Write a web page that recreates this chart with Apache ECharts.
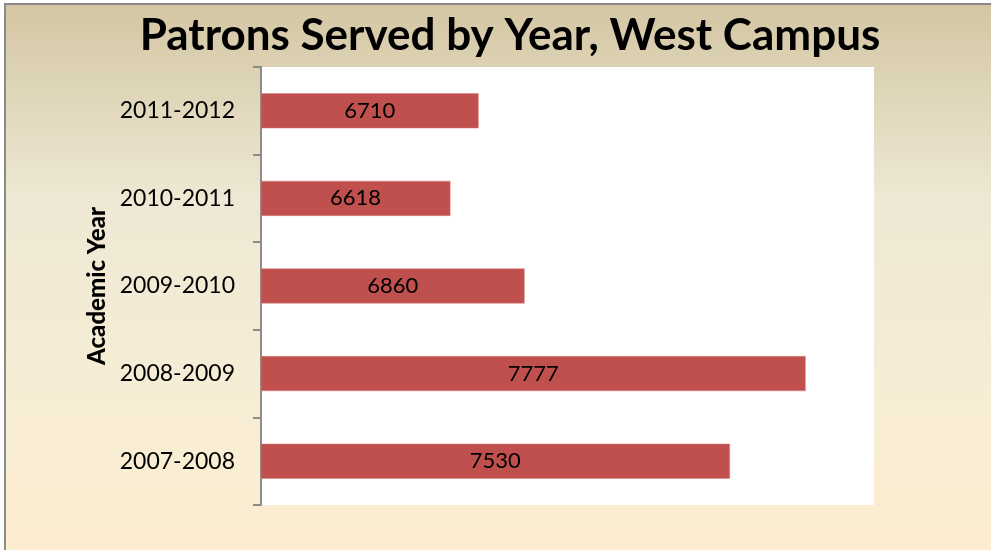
<!DOCTYPE html>
<html>
<head>
<meta charset="utf-8">
<script src="https://cdn.jsdelivr.net/npm/echarts@6/dist/echarts.min.js"></script>
<style>
html,body{margin:0;padding:0;background:#fff;}
#chart{width:991px;height:550px;}
</style>
</head>
<body>
<div id="chart"></div>
<script>
const titleText = 'Patrons Served by Year, West Campus';
const axisName = 'Academic Year';
const categories = ['2011-2012', '2010-2011', '2009-2010', '2008-2009', '2007-2008'];
const patrons = [6710, 6618, 6860, 7777, 7530];
const xMin = 6000;
const xMax = 8000;

const chart = echarts.init(document.getElementById('chart'), null, {renderer: 'canvas'});
const FONT = 'Lato, "Open Sans", sans-serif';
chart.setOption({
  animation: false,
  backgroundColor: 'transparent',
  graphic: [
    {
      type: 'rect', z: -10, silent: true,
      shape: {x: 5, y: 4, width: 1000, height: 560},
      style: {
        fill: new echarts.graphic.LinearGradient(0, 0, 0, 1, [
          {offset: 0, color: '#D3C6A3'},
          {offset: 0.35, color: '#EEE8D4'},
          {offset: 0.7, color: '#F7EDD5'},
          {offset: 1, color: '#FDEDD0'}
        ]),
        stroke: '#8A8A8A', lineWidth: 2
      }
    }
  ],
  title: {
    text: titleText,
    left: 505, top: 9, textAlign: 'center',
    textStyle: {fontFamily: FONT, fontWeight: 'bold', fontSize: 44, color: '#000'}
  },
  grid: {left: 261, top: 67, right: 117, bottom: 45, show: true, backgroundColor: '#FFFFFF', borderWidth: 0, containLabel: false},
  xAxis: {
    type: 'value', min: xMin, max: xMax, show: false,
    splitLine: {show: false}
  },
  yAxis: {
    type: 'category', data: categories, inverse: true,
    name: axisName, nameLocation: 'middle', nameGap: 152,
    nameTextStyle: {fontFamily: FONT, fontWeight: 900, fontSize: 24, color: '#000'},
    axisLine: {show: true, lineStyle: {color: '#8C8C8C', width: 2}},
    axisTick: {show: true, length: 8, lineStyle: {color: '#8C8C8C', width: 2}},
    axisLabel: {fontFamily: FONT, fontSize: 23, color: '#000', margin: 26}
  },
  series: [{
    type: 'bar', data: patrons, barWidth: '40%',
    itemStyle: {color: '#C0504D', borderColor: '#D6837F', borderWidth: 0.5},
    label: {show: true, position: 'inside', fontFamily: FONT, fontSize: 22, color: '#000'}
  }]
});
</script>
</body>
</html>
